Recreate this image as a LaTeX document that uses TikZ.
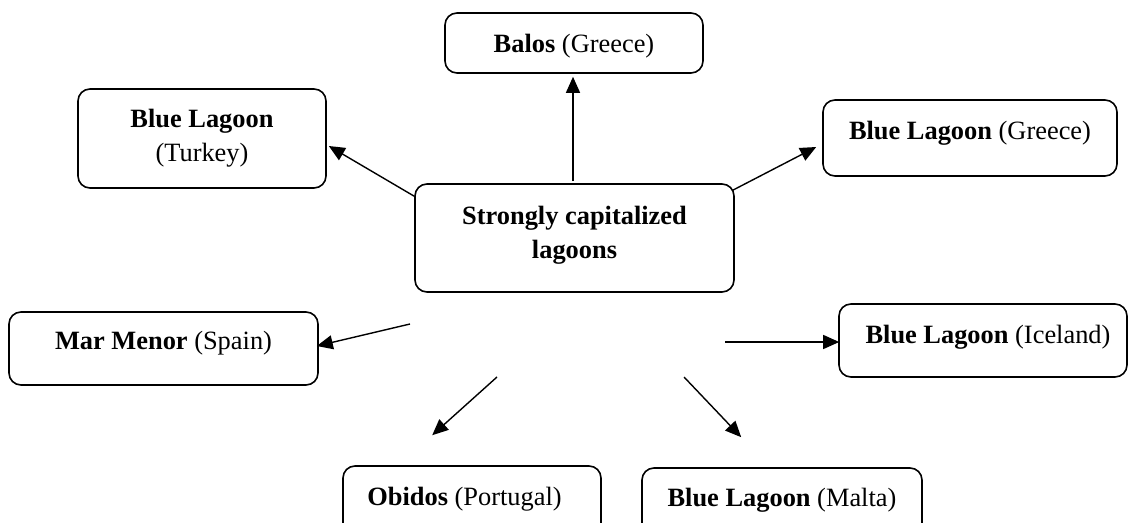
\documentclass[tikz,border=0pt]{standalone}
\usepackage{fontspec}
\setmainfont{Liberation Serif}
\usetikzlibrary{arrows.meta,calc}
\begin{document}
\begin{tikzpicture}[x=1pt,y=-1pt,
  box/.style={draw=black, line width=1.6pt, rounded corners=12pt, inner sep=0pt,
    align=center, font=\fontsize{26.4}{34}\selectfont},
  oneline/.style={text height=19pt},
  conn/.style={line width=1.4pt, -{Triangle[length=16pt,width=14pt]}}]
\path[use as bounding box, clip] (0,0) rectangle (1129,522);
\fill[white] (0,0) rectangle (1129,522);

\node[box, oneline, minimum width=258pt, minimum height=60pt, text depth=1pt] (balos) at (574,43) {\textbf{Balos} (Greece)};
\node[box, minimum width=248pt, minimum height=99pt] (turkey) at (202,138.5) {\textbf{Blue Lagoon}\\(Turkey)};
\node[box, oneline, minimum width=294pt, minimum height=76pt, text depth=17pt] (greece) at (970,138) {\textbf{Blue Lagoon} (Greece)};
\node[box, minimum width=319pt, minimum height=108pt] (center) at (574.5,238) {\textbf{Strongly capitalized}\\\textbf{lagoons}\rule[-12pt]{0pt}{12pt}};
\node[box, oneline, minimum width=309pt, minimum height=73pt, text depth=18pt] (marmenor) at (163.5,348.5) {\textbf{Mar Menor} (Spain)};
\node[box, oneline, minimum width=288pt, minimum height=73pt, text depth=14pt] (iceland) at (983,340.5) {\hspace*{10pt}\textbf{Blue Lagoon} (Iceland)};
\node[box, oneline, minimum width=258pt, minimum height=100pt, text depth=41pt] (obidos) at (472,516) {\textbf{Obidos} (Portugal)\hspace*{15pt}};
\node[box, oneline, minimum width=280pt, minimum height=100pt, text depth=43pt] (malta) at (782,518) {\textbf{Blue Lagoon} (Malta)};

\coordinate (mms) at (410,324);
\coordinate (ics) at (725,342);
\coordinate (obs) at (497,377);
\coordinate (mas) at (684,377);

\draw[conn] ($(center.north west)+(0,13)$) -- ($(turkey.east)+(2,7.5)$);
\draw[conn] ($(center.north)+(-1.5,-2)$) -- ($(balos.south)+(-1,3)$);
\draw[conn] ($(center.north east)+(-2,7)$) -- ($(greece.west)+(-6,9)$);
\draw[conn] (mms) -- ($(marmenor.east)+(-2,-2.5)$);
\draw[conn] (ics) -- ($(iceland.west)+(1,1.5)$);
\draw[conn] (obs) -- ($(obidos.north west)+(90,-30)$);
\draw[conn] (mas) -- ($(malta.north west)+(100,-30)$);
\end{tikzpicture}
\end{document}
